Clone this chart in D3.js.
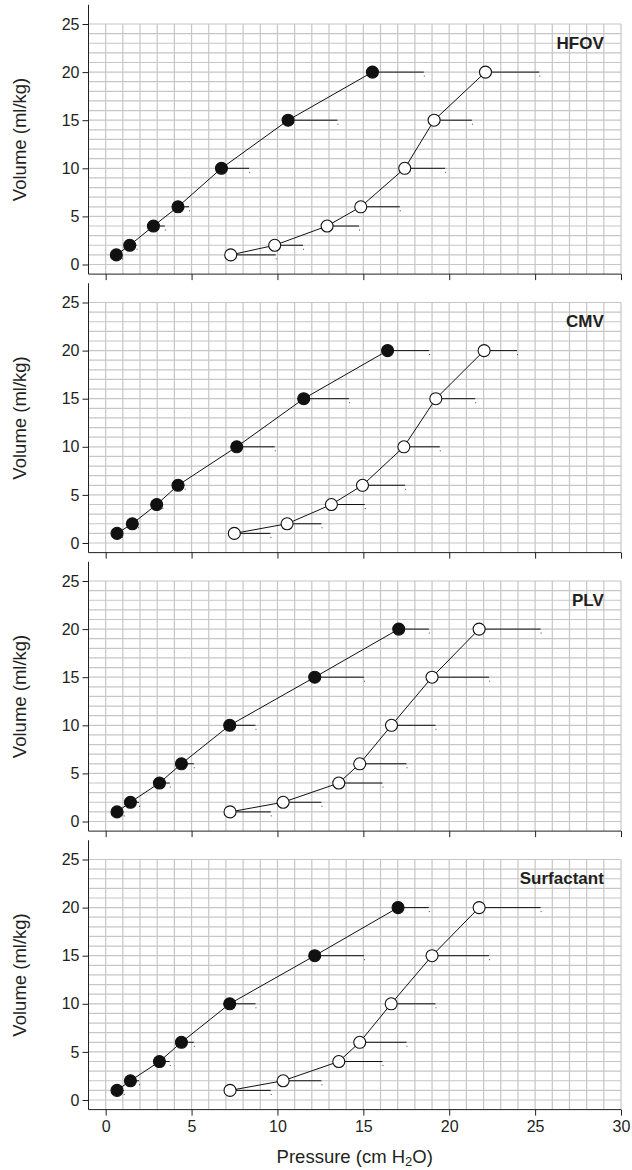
<!DOCTYPE html>
<html>
<head>
<meta charset="utf-8">
<title>Pressure-volume curves</title>
<script src="https://cdnjs.cloudflare.com/ajax/libs/d3/7.8.5/d3.min.js"></script>
<style>
  body { margin: 0; background: #fff; }
  text { font-family: "Liberation Sans", Arial, Helvetica, sans-serif; fill: #231f20; }
</style>
</head>
<body>
<script>
// data
var panels = ["HFOV", "CMV", "PLV", "Surfactant"];
var volumes = [1, 2, 4, 6, 10, 15, 20];

// filled circles (inflation) - pressure, and right end of the error bar
var filledP = [
  [0.62, 1.40, 2.78, 4.21, 6.74, 10.62, 15.53],
  [0.66, 1.55, 2.97, 4.21, 7.63, 11.53, 16.41],
  [0.66, 1.44, 3.13, 4.41, 7.22, 12.17, 17.06],
  [0.66, 1.44, 3.13, 4.41, 7.22, 12.17, 17.02]
];
var filledEnd = [
  [0.95, 1.80, 3.44, 4.85, 8.35, 13.49, 18.52],
  [0.95, 1.88, 3.30, 4.60, 9.84, 14.17, 18.83],
  [1.05, 1.94, 3.73, 5.13, 8.72, 15.04, 18.81],
  [1.05, 1.94, 3.73, 5.13, 8.72, 15.04, 18.81]
];
// open circles (deflation)
var openP = [
  [7.28, 9.84, 12.89, 14.85, 17.41, 19.12, 22.11],
  [7.49, 10.56, 13.14, 14.95, 17.36, 19.22, 22.03],
  [7.24, 10.33, 13.57, 14.79, 16.64, 19.00, 21.74],
  [7.24, 10.33, 13.57, 14.79, 16.62, 19.00, 21.74]
];
var openEnd = [
  [9.90, 11.49, 14.75, 17.12, 19.76, 21.32, 25.24],
  [9.59, 12.56, 15.08, 17.43, 19.45, 21.51, 23.95],
  [9.61, 12.56, 16.11, 17.51, 19.20, 22.32, 25.32],
  [9.61, 12.56, 16.11, 17.51, 19.20, 22.32, 25.32]
];
var xTicks = [0, 5, 10, 15, 20, 25, 30];
var yTicks = [0, 5, 10, 15, 20, 25];

var W = 632, H = 1170;
var svg = d3.select("body").append("svg")
  .attr("width", W).attr("height", H);

var x = d3.scaleLinear().domain([-1, 30]).range([88.5, 621]);
var unitY = 9.62;
var tops = [24, 302.5, 581, 859.5];

panels.forEach(function(name, i) {
  var bottom = tops[i] + 26 * unitY;
  var y = d3.scaleLinear().domain([-1, 27]).range([bottom, bottom - 28 * unitY]);
  var g = svg.append("g");

  // grid
  var grid = g.append("g").attr("stroke", "#c6c6c6").attr("stroke-width", 1.2);
  grid.selectAll("line.v").data(d3.range(0, 31)).enter().append("line")
    .attr("x1", d => x(d)).attr("x2", d => x(d))
    .attr("y1", y(-1)).attr("y2", y(25));
  grid.selectAll("line.h").data(d3.range(0, 26)).enter().append("line")
    .attr("x1", x(-1)).attr("x2", x(30))
    .attr("y1", d => y(d)).attr("y2", d => y(d));

  // axes
  var yAxis = d3.axisLeft(y).tickValues(yTicks).tickSize(6).tickPadding(3);
  var ya = g.append("g").attr("transform", "translate(" + x(-1) + ",0)").call(yAxis);
  ya.select(".domain").attr("d", "M0," + y(-1) + "V" + y(27)).attr("stroke", "#231f20");
  ya.selectAll(".tick line").attr("stroke", "#231f20");
  ya.selectAll("text").style("font-size", "16px").attr("fill", "#231f20");

  var xAxis = d3.axisBottom(x).tickValues(xTicks).tickSize(6).tickPadding(5);
  if (i < 3) xAxis.tickFormat("");
  var xa = g.append("g").attr("transform", "translate(0," + y(-1) + ")").call(xAxis);
  xa.select(".domain").attr("d", "M" + x(-1) + ",0H" + x(30)).attr("stroke", "#231f20");
  xa.selectAll(".tick line").attr("stroke", "#231f20");
  xa.selectAll("text").style("font-size", "16px").attr("fill", "#231f20");

  // y title
  g.append("text")
    .attr("transform", "translate(19," + y(13) + ") rotate(-90)")
    .attr("text-anchor", "middle").attr("dominant-baseline", "central")
    .style("font-size", "18.5px")
    .text("Volume (ml/kg)");

  // panel label
  g.append("text")
    .attr("x", x(29)).attr("y", y(23))
    .attr("text-anchor", "end").attr("dominant-baseline", "central")
    .style("font-size", "17px").style("font-weight", "bold")
    .text(name);

  var series = [
    {p: filledP[i], e: filledEnd[i], fill: "#111"},
    {p: openP[i], e: openEnd[i], fill: "#fff"}
  ];
  series.forEach(function(s) {
    var pts = volumes.map((v, k) => ({v: v, p: s.p[k], e: s.e[k]}));
    // error bars
    g.selectAll(null).data(pts).enter().append("line")
      .attr("x1", d => x(d.p)).attr("x2", d => x(d.e))
      .attr("y1", d => y(d.v)).attr("y2", d => y(d.v))
      .attr("stroke", "#111").attr("stroke-width", 1);
    g.selectAll(null).data(pts).enter().append("rect")
      .attr("x", d => x(d.e)).attr("y", d => y(d.v) + 3.5)
      .attr("width", 1).attr("height", 1).attr("fill", "#444");
    // connecting line
    g.append("path").datum(pts)
      .attr("d", d3.line().x(d => x(d.p)).y(d => y(d.v)))
      .attr("fill", "none").attr("stroke", "#111").attr("stroke-width", 1);
    g.selectAll(null).data(pts).enter().append("circle")
      .attr("cx", d => x(d.p)).attr("cy", d => y(d.v)).attr("r", 6)
      .attr("fill", s.fill).attr("stroke", "#111").attr("stroke-width", 1.1);
  });
});

// x title with subscript
var xt = svg.append("text")
  .attr("x", (x(-1) + x(30)) / 2).attr("y", 1163)
  .attr("text-anchor", "middle").style("font-size", "18.5px");
xt.append("tspan").text("Pressure (cm H");
xt.append("tspan").attr("dy", 3).style("font-size", "13px").text("2");
xt.append("tspan").attr("dy", -3).text("O)");
</script>
</body>
</html>
